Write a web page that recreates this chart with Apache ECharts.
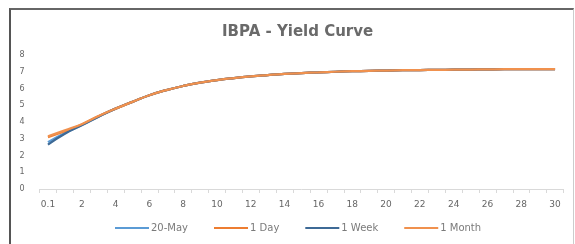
<!DOCTYPE html>
<html>
<head>
<meta charset="utf-8">
<script src="https://cdn.jsdelivr.net/npm/echarts@6/dist/echarts.min.js"></script>
<style>
  html, body { margin: 0; padding: 0; background: #fff; }
  #frame {
    position: absolute; left: 9px; top: 8px; width: 562px; height: 240px;
    border-left: 2px solid #555; border-top: 2px solid #666; border-right: 1px solid #ccc;
  }
  #main { position: absolute; left: 0; top: 0; width: 575px; height: 244px; }
</style>
</head>
<body>
<div id="frame"></div>
<div id="main"></div>
<script>
// tenor (years)
var tenors = ['0.1','1','2','3','4','5','6','7','8','9','10','11','12','13','14','15',
              '16','17','18','19','20','21','22','23','24','25','26','27','28','29','30'];

var may20 = [2.8, 3.35, 3.82, 4.33, 4.8, 5.2, 5.6, 5.9, 6.15, 6.35, 6.5, 6.62, 6.72, 6.8, 6.87, 6.92,
             6.96, 7.0, 7.03, 7.05, 7.07, 7.09, 7.1, 7.11, 7.12, 7.13, 7.14, 7.15, 7.15, 7.16, 7.16];
var day1 = [3.1, 3.45, 3.85, 4.35, 4.8, 5.2, 5.6, 5.9, 6.15, 6.35, 6.5, 6.62, 6.72, 6.8, 6.87, 6.92,
             6.96, 7.0, 7.03, 7.05, 7.07, 7.09, 7.1, 7.11, 7.12, 7.13, 7.14, 7.15, 7.15, 7.16, 7.16];
var week1 = [2.65, 3.3, 3.8, 4.32, 4.8, 5.2, 5.6, 5.9, 6.15, 6.35, 6.5, 6.62, 6.72, 6.8, 6.87, 6.92,
             6.96, 7.0, 7.03, 7.05, 7.07, 7.09, 7.1, 7.11, 7.12, 7.13, 7.14, 7.15, 7.15, 7.16, 7.16];
var month1 = [3.15, 3.5, 3.87, 4.36, 4.8, 5.2, 5.6, 5.9, 6.15, 6.35, 6.5, 6.62, 6.72, 6.8, 6.87, 6.92,
             6.96, 7.0, 7.03, 7.05, 7.07, 7.09, 7.1, 7.11, 7.12, 7.13, 7.14, 7.15, 7.15, 7.16, 7.16];

var seriesNames = ['20-May', '1 Day', '1 Week', '1 Month'];
var seriesData = [may20, day1, week1, month1];
var colors = ['#5B9BD5', '#ED7D31', '#3E6A96', '#F0914E'];

var chart = echarts.init(document.getElementById('main'));
var series = [];
for (var i = 0; i < seriesNames.length; i++) {
  series.push({
    name: seriesNames[i],
    type: 'line',
    smooth: true,
    symbol: 'none',
    data: seriesData[i],
    lineStyle: { width: 2.25, color: colors[i] },
    itemStyle: { color: colors[i] }
  });
}

chart.setOption({
  animation: false,
  title: {
    text: 'IBPA - Yield Curve',
    left: 217,
    top: 20,
    textStyle: { fontFamily: 'DejaVu Sans', fontSize: 15, fontWeight: 'bold', color: '#6a6a6a' }
  },
  legend: {
    data: seriesNames,
    bottom: 6,
    left: 110,
    itemWidth: 34,
    itemHeight: 2,
    itemGap: 26,
    icon: 'rect',
    textStyle: { fontFamily: 'DejaVu Sans', fontSize: 10, color: '#7a7a7a', padding: [0, 0, 0, -3] }
  },
  grid: { left: 39.5, right: 11.5, top: 55, bottom: 55 },
  xAxis: {
    type: 'category',
    data: tenors,
    boundaryGap: true,
    axisLine: { lineStyle: { color: '#D9D9D9' } },
    axisTick: { show: true, interval: 0, length: 4, lineStyle: { color: '#D9D9D9' } },
    axisLabel: { interval: 1, margin: 11, fontFamily: 'DejaVu Sans', fontSize: 9, color: '#666' }
  },
  yAxis: {
    type: 'value',
    min: 0,
    max: 8,
    interval: 1,
    splitLine: { show: false },
    axisLine: { show: false },
    axisTick: { show: false },
    axisLabel: { margin: 15, fontFamily: 'DejaVu Sans', fontSize: 8, color: '#666' }
  },
  series: series
});
</script>
</body>
</html>
